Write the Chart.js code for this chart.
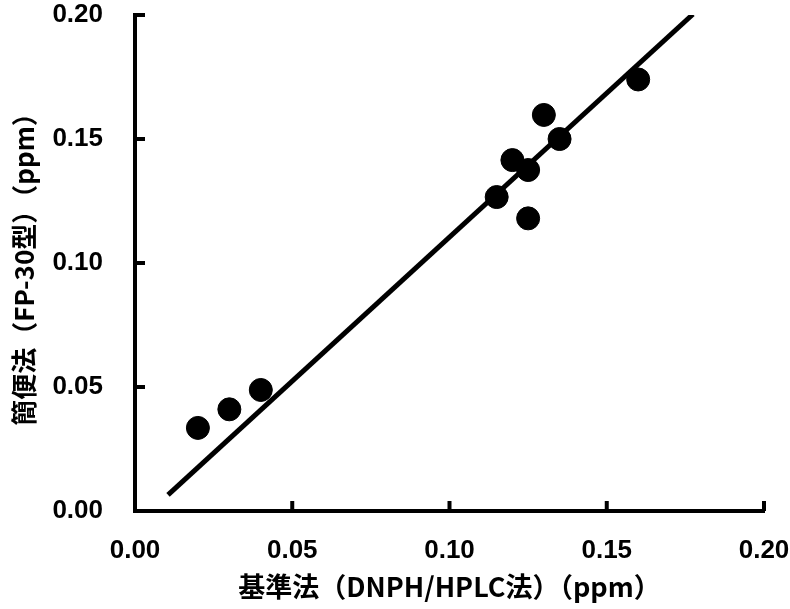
<!DOCTYPE html>
<html>
<head>
<meta charset="utf-8">
<script src="https://cdn.jsdelivr.net/npm/chart.js@4"></script>
<style>
  html, body { margin: 0; padding: 0; background: #fff; }
  #wrap { width: 790px; height: 609px; }
</style>
</head>
<body>
<div id="wrap"><canvas id="scatterChart" width="790" height="609"></canvas></div>
<script>
// 基準法 vs 簡便法 の測定値
const refValues = [0.02, 0.03, 0.04, 0.115, 0.12, 0.125, 0.125, 0.13, 0.135, 0.16];
const fpValues = [0.0335, 0.041, 0.0488, 0.1266, 0.1415, 0.1375, 0.118, 0.1597, 0.150, 0.174];
// 回帰直線の端点
const fitX = [0.0105, 0.1774];
const fitY = [0.0065, 0.2003];
const tickValues = [0, 0.05, 0.10, 0.15, 0.20];

const xTitle = '基準法（DNPH/HPLC法）（ppm）';
const yTitle = '簡便法（FP-30型）（ppm）';

const labelFont = { family: "'Liberation Sans', Arial, sans-serif", size: 26, weight: 'bold' };

// 内向きの目盛り
const innerTicks = {
  id: 'innerTicks',
  afterDraw(chart) {
    const ctx = chart.ctx;
    const xs = chart.scales.x;
    const ys = chart.scales.y;
    const area = chart.chartArea;
    ctx.save();
    ctx.strokeStyle = '#000';
    ctx.lineWidth = 4;
    tickValues.forEach(v => {
      const px = xs.getPixelForValue(v);
      ctx.beginPath();
      ctx.moveTo(px, area.bottom);
      ctx.lineTo(px, area.bottom - 10);
      ctx.stroke();
      const py = ys.getPixelForValue(v);
      ctx.beginPath();
      ctx.moveTo(area.left, py);
      ctx.lineTo(area.left + 10, py);
      ctx.stroke();
    });
    ctx.restore();
  }
};

function noPad(scale) {
  scale.paddingTop = 0;
  scale.paddingBottom = 0;
  scale.paddingLeft = 0;
  scale.paddingRight = 0;
}

new Chart(document.getElementById('scatterChart'), {
  type: 'scatter',
  data: {
    datasets: [{
      label: '測定値',
      data: refValues.map((x, i) => ({ x: x, y: fpValues[i] })),
      backgroundColor: '#000',
      borderColor: '#000',
      pointRadius: 11.5,
      pointHoverRadius: 11.5
    }, {
      label: '回帰直線',
      type: 'line',
      data: fitX.map((x, i) => ({ x: x, y: fitY[i] })),
      borderColor: '#000',
      borderWidth: 5,
      pointRadius: 0,
      fill: false
    }]
  },
  options: {
    responsive: false,
    animation: false,
    layout: { padding: { top: 15, right: 26, left: 0, bottom: 0 } },
    plugins: { legend: { display: false }, tooltip: { enabled: false } },
    scales: {
      x: {
        type: 'linear',
        min: 0,
        max: 0.2,
        afterBuildTicks: scale => { scale.ticks = tickValues.map(v => ({ value: v })); },
        afterFit: scale => { scale.height = 98; noPad(scale); },
        grid: { display: false, drawTicks: false },
        border: { display: true, color: '#000', width: 4 },
        ticks: { color: '#000', font: labelFont, padding: 24, maxRotation: 0, callback: v => v.toFixed(2) },
        title: { display: true, text: xTitle, color: '#000',
          font: { family: "'Noto Sans CJK JP', sans-serif", size: 27, weight: 'bold' },
          padding: { top: 0, bottom: 6 } }
      },
      y: {
        type: 'linear',
        min: 0,
        max: 0.2,
        afterBuildTicks: scale => { scale.ticks = tickValues.map(v => ({ value: v })); },
        afterFit: scale => { scale.width = 135; noPad(scale); },
        grid: { display: false, drawTicks: false },
        border: { display: true, color: '#000', width: 4 },
        ticks: { color: '#000', font: labelFont, padding: 32, callback: v => v.toFixed(2) },
        title: { display: true, text: yTitle, color: '#000',
          font: { family: "'Noto Sans CJK JP', sans-serif", size: 26, weight: 'bold' },
          padding: { top: 9, bottom: 0 } }
      }
    }
  },
  plugins: [innerTicks]
});
</script>
</body>
</html>
